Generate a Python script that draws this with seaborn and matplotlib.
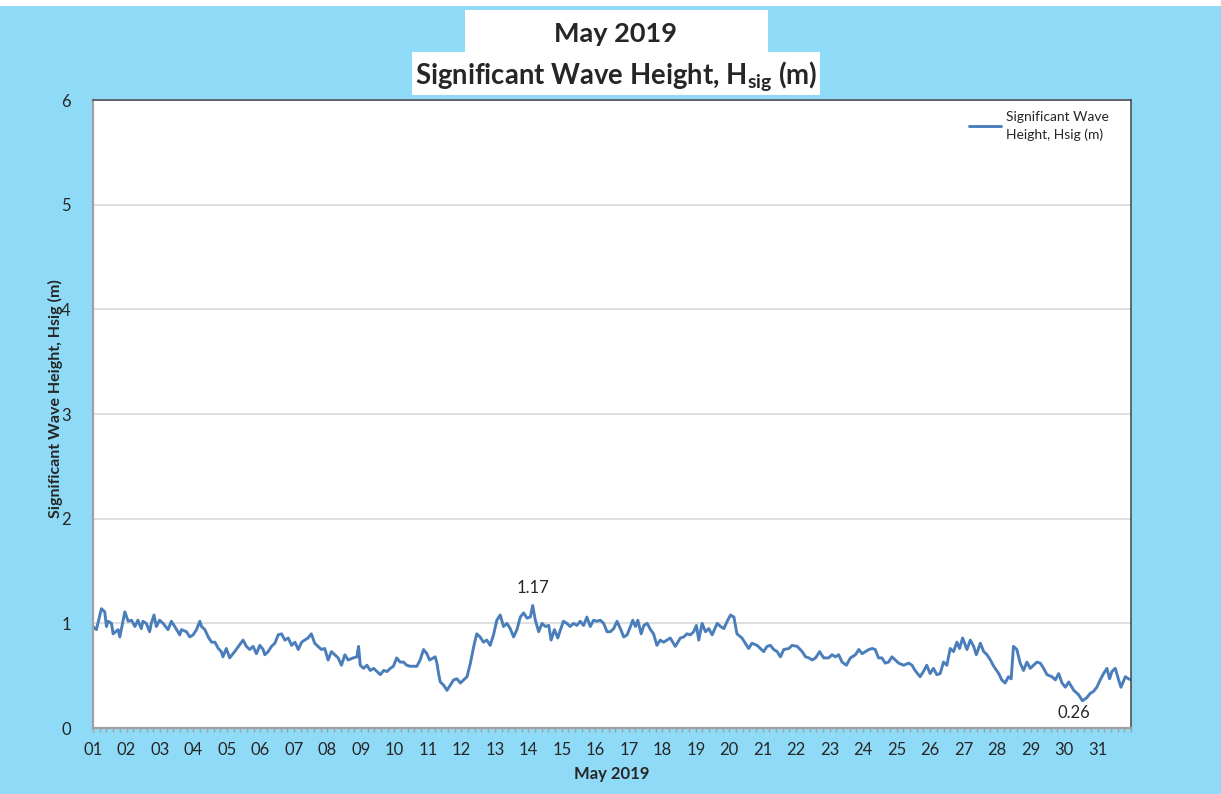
import numpy as np
import pandas as pd
import matplotlib
matplotlib.use('Agg')
from matplotlib import pyplot as plt
from matplotlib.patches import Rectangle
from matplotlib.ticker import MultipleLocator
import seaborn as sns

# day of month (fractional) and significant wave height (m)
day = [1.00, 1.10, 1.25, 1.35, 1.40, 1.45, 1.55, 1.60, 1.75, 1.80, 1.95, 2.05, 2.15, 2.25, 2.34,
       2.44, 2.49, 2.59, 2.69, 2.74, 2.82, 2.89, 2.99, 3.09, 3.24, 3.34, 3.44, 3.59, 3.64, 3.79,
       3.89, 3.99, 4.09, 4.19, 4.24, 4.34, 4.44, 4.54, 4.64, 4.74, 4.83, 4.88, 4.98, 5.08, 5.23,
       5.48, 5.58, 5.68, 5.78, 5.88, 5.98, 6.08, 6.13, 6.23, 6.33, 6.43, 6.53, 6.63, 6.73, 6.83,
       6.93, 7.03, 7.13, 7.23, 7.32, 7.42, 7.52, 7.62, 7.72, 7.82, 7.92, 8.02, 8.12, 8.22, 8.32,
       8.42, 8.52, 8.62, 8.77, 8.88, 8.93, 8.98, 9.08, 9.18, 9.28, 9.38, 9.48, 9.58, 9.68, 9.78,
       9.88, 9.97, 10.07, 10.17, 10.27, 10.37, 10.47, 10.57, 10.67, 10.77, 10.87, 10.97, 11.05, 11.22, 11.27,
       11.32, 11.37, 11.47, 11.57, 11.67, 11.77, 11.87, 11.97, 12.07, 12.17, 12.27, 12.37, 12.46, 12.56, 12.66,
       12.76, 12.86, 12.96, 13.06, 13.16, 13.26, 13.36, 13.46, 13.56, 13.66, 13.76, 13.86, 13.96, 14.06, 14.13,
       14.21, 14.31, 14.41, 14.51, 14.61, 14.68, 14.78, 14.88, 14.96, 15.05, 15.15, 15.25, 15.35, 15.45, 15.55,
       15.65, 15.75, 15.85, 15.95, 16.05, 16.15, 16.25, 16.35, 16.45, 16.55, 16.65, 16.75, 16.85, 16.95, 17.05,
       17.12, 17.20, 17.27, 17.37, 17.45, 17.55, 17.65, 17.74, 17.84, 17.94, 18.04, 18.14, 18.24, 18.39, 18.54,
       18.64, 18.74, 18.84, 18.94, 19.02, 19.09, 19.19, 19.29, 19.39, 19.49, 19.64, 19.74, 19.84, 19.94, 20.04,
       20.14, 20.23, 20.38, 20.48, 20.58, 20.68, 20.83, 21.03, 21.13, 21.23, 21.33, 21.43, 21.53, 21.63, 21.78,
       21.88, 22.03, 22.18, 22.28, 22.38, 22.48, 22.58, 22.70, 22.82, 22.97, 23.07, 23.17, 23.27, 23.37, 23.50,
       23.62, 23.77, 23.87, 23.97, 24.07, 24.17, 24.27, 24.36, 24.46, 24.56, 24.66, 24.76, 24.86, 24.96, 25.06,
       25.21, 25.36, 25.46, 25.55, 25.70, 25.80, 25.90, 26.00, 26.10, 26.20, 26.30, 26.40, 26.50, 26.60, 26.70,
       26.80, 26.88, 26.97, 27.10, 27.20, 27.30, 27.38, 27.50, 27.60, 27.70, 27.80, 27.90, 28.05, 28.14, 28.24,
       28.34, 28.42, 28.49, 28.59, 28.69, 28.79, 28.89, 28.99, 29.09, 29.19, 29.29, 29.39, 29.49, 29.64, 29.74,
       29.84, 29.94, 30.04, 30.14, 30.29, 30.43, 30.55, 30.68, 30.78, 30.88, 30.98, 31.08, 31.18, 31.28, 31.36,
       31.43, 31.53, 31.63, 31.70, 31.83, 31.93, 32.00]
hsig = [0.97, 0.94, 1.14, 1.11, 0.97, 1.02, 1.00, 0.90, 0.94, 0.87, 1.11, 1.02, 1.03, 0.97, 1.03,
        0.95, 1.02, 1.00, 0.92, 1.00, 1.08, 0.97, 1.03, 1.00, 0.94, 1.02, 0.97, 0.89, 0.94, 0.92,
        0.87, 0.89, 0.94, 1.02, 0.97, 0.94, 0.87, 0.82, 0.82, 0.76, 0.73, 0.68, 0.76, 0.67, 0.73,
        0.84, 0.78, 0.75, 0.78, 0.71, 0.79, 0.75, 0.70, 0.73, 0.78, 0.81, 0.89, 0.90, 0.84, 0.86,
        0.79, 0.82, 0.75, 0.82, 0.84, 0.86, 0.90, 0.81, 0.78, 0.75, 0.76, 0.65, 0.73, 0.70, 0.67,
        0.60, 0.70, 0.65, 0.67, 0.68, 0.78, 0.60, 0.57, 0.60, 0.55, 0.57, 0.54, 0.51, 0.55, 0.54,
        0.57, 0.59, 0.67, 0.63, 0.63, 0.60, 0.59, 0.59, 0.59, 0.65, 0.75, 0.71, 0.65, 0.68, 0.62,
        0.52, 0.44, 0.41, 0.36, 0.41, 0.46, 0.47, 0.43, 0.46, 0.49, 0.62, 0.78, 0.90, 0.87, 0.82,
        0.84, 0.79, 0.89, 1.03, 1.08, 0.97, 1.00, 0.95, 0.87, 0.94, 1.06, 1.10, 1.05, 1.06, 1.17,
        1.03, 0.92, 1.00, 0.97, 0.98, 0.84, 0.94, 0.86, 0.94, 1.02, 1.00, 0.97, 1.00, 0.98, 1.02,
        0.98, 1.06, 0.97, 1.03, 1.02, 1.03, 1.00, 0.92, 0.92, 0.95, 1.02, 0.95, 0.87, 0.89, 0.97,
        1.03, 0.97, 1.03, 0.90, 0.98, 1.00, 0.94, 0.90, 0.79, 0.84, 0.82, 0.84, 0.86, 0.78, 0.86,
        0.87, 0.90, 0.89, 0.92, 0.98, 0.84, 1.00, 0.92, 0.95, 0.89, 1.00, 0.97, 0.95, 1.02, 1.08,
        1.06, 0.90, 0.86, 0.81, 0.76, 0.81, 0.79, 0.73, 0.78, 0.79, 0.75, 0.73, 0.68, 0.75, 0.76,
        0.79, 0.78, 0.73, 0.68, 0.67, 0.65, 0.67, 0.73, 0.67, 0.67, 0.70, 0.68, 0.70, 0.63, 0.60,
        0.67, 0.70, 0.75, 0.71, 0.73, 0.75, 0.76, 0.75, 0.67, 0.67, 0.62, 0.63, 0.68, 0.65, 0.62,
        0.60, 0.62, 0.60, 0.55, 0.49, 0.54, 0.60, 0.52, 0.57, 0.51, 0.52, 0.63, 0.60, 0.76, 0.73,
        0.82, 0.76, 0.86, 0.75, 0.84, 0.78, 0.70, 0.81, 0.73, 0.70, 0.65, 0.59, 0.52, 0.46, 0.43,
        0.49, 0.47, 0.78, 0.75, 0.62, 0.55, 0.63, 0.57, 0.60, 0.63, 0.62, 0.57, 0.51, 0.49, 0.46,
        0.52, 0.43, 0.39, 0.44, 0.36, 0.32, 0.26, 0.29, 0.33, 0.35, 0.39, 0.46, 0.52, 0.57, 0.47,
        0.54, 0.57, 0.46, 0.39, 0.49, 0.47, 0.46]

day_labels = ['%02d' % d for d in range(1, 32)]
max_label = '1.17'
min_label = '0.26'

df = pd.DataFrame({'Day': day, 'Hsig': hsig})

bg = '#8FDBF7'
line_color = '#4A7EBB'
grey = '#A0A0A0'

sns.set_theme(style='white')
plt.rcParams['font.family'] = ['Lato', 'DejaVu Sans']
plt.rcParams['mathtext.fontset'] = 'custom'
plt.rcParams['mathtext.rm'] = 'Lato'
plt.rcParams['mathtext.bf'] = 'Lato:bold'

fig = plt.figure(figsize=(12.21, 7.94), dpi=100, facecolor=bg)
ax = fig.add_axes([0.0762, 0.0831, 0.8501, 0.7909])
ax.set_facecolor('white')

sns.lineplot(data=df, x='Day', y='Hsig', ax=ax, color=line_color, linewidth=2.1,
             label='Significant Wave\nHeight, Hsig (m)')

ax.set_xlim(1, 32)
ax.set_ylim(0, 6)
ax.set_yticks(range(0, 7))
ax.set_xticks(range(1, 32))
ax.set_xticklabels(day_labels)
ax.xaxis.set_minor_locator(MultipleLocator(0.2))
ax.yaxis.grid(True, color='#D9D9D9', linewidth=1.2)
ax.xaxis.grid(False)
ax.tick_params(axis='x', which='both', bottom=True, length=3, width=1, color=grey,
               labelsize=12, pad=7, labelcolor='#262626')
ax.tick_params(axis='y', left=False, labelsize=12, pad=10, labelcolor='#262626')
for side in ['left', 'bottom']:
    ax.spines[side].set_color(grey)
    ax.spines[side].set_linewidth(1.6)
for side in ['top', 'right']:
    ax.spines[side].set_color('#505050')
    ax.spines[side].set_linewidth(1.2)

ax.set_xlabel('May 2019', fontsize=12, fontweight='bold', labelpad=6)
ax.set_ylabel('Significant Wave Height, Hsig (m)', fontsize=11.5, fontweight='bold')
ax.yaxis.set_label_coords(-0.029, 0.524)

# max / min annotations
imax = int(np.argmax(hsig))
imin = int(np.argmin(hsig))
ax.annotate(max_label, (day[imax], hsig[imax]), xytext=(0, 7), textcoords='offset points',
            ha='center', va='bottom', fontsize=12)
ax.annotate(min_label, (day[imin], hsig[imin]), xytext=(-6, -3), textcoords='offset points',
            ha='center', va='top', fontsize=12)

leg = ax.legend(loc='upper right', bbox_to_anchor=(0.991, 1.002), frameon=False, fontsize=10,
                handlelength=2.3, handletextpad=0.4)
for t in leg.get_texts():
    t.set_linespacing(1.45)

# title boxes
fig.patches.append(Rectangle((0.0, 0.9925), 1.0, 0.0075, transform=fig.transFigure,
                             facecolor='white', edgecolor='none'))
fig.patches.append(Rectangle((0.381, 0.9332), 0.248, 0.0542, transform=fig.transFigure,
                             facecolor='white', edgecolor='none'))
fig.patches.append(Rectangle((0.3374, 0.8804), 0.334, 0.0535, transform=fig.transFigure,
                             facecolor='white', edgecolor='none'))
fig.text(0.5045, 0.957, 'May 2019', ha='center', va='center', fontsize=19.5, fontweight='bold')
fig.text(0.5045, 0.903, r'Significant Wave Height, H$_{\mathbf{sig}}$ (m)', ha='center',
         va='center', fontsize=19.8, fontweight='bold')

fig.savefig('out.png', dpi=100, facecolor=bg)
